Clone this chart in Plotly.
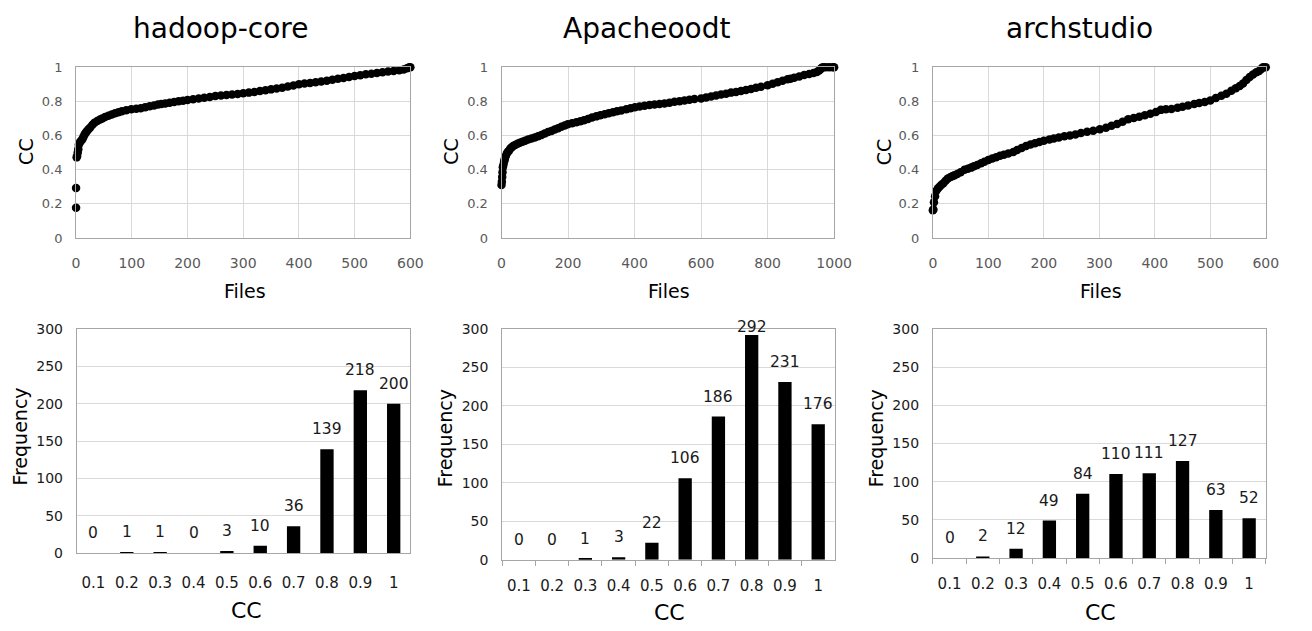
import plotly.graph_objects as go

# ---------------- data ----------------
titles = ["hadoop-core", "Apacheoodt", "archstudio"]

hadoop_files = [0, 0, 1, 2, 3, 4, 5, 7, 9, 11, 13, 15, 17, 19, 22, 25, 29, 33, 38, 43, 47, 52, 58, 64, 70, 76, 82, 90, 99,
                108, 116, 124, 132, 140, 147, 153, 160, 168, 176, 184, 192, 200, 210, 220, 230, 240, 250, 260, 270, 280,
                290, 300, 310, 320, 330, 340, 350, 360, 370, 380, 390, 400, 410, 420, 430, 440, 450, 460, 470, 480, 490,
                500, 510, 520, 530, 540, 550, 560, 570, 580, 588, 594, 598, 600]
hadoop_cc = [0.177, 0.293, 0.472, 0.48, 0.50, 0.52, 0.548, 0.56, 0.57, 0.576, 0.59, 0.605, 0.615, 0.624, 0.635, 0.645,
             0.662, 0.675, 0.685, 0.693, 0.70, 0.708, 0.715, 0.723, 0.73, 0.736, 0.742, 0.748, 0.753, 0.756, 0.76, 0.766,
             0.771, 0.776, 0.781, 0.785, 0.788, 0.792, 0.796, 0.80, 0.804, 0.808, 0.812, 0.817, 0.821, 0.826, 0.831,
             0.834, 0.837, 0.84, 0.843, 0.847, 0.851, 0.855, 0.86, 0.865, 0.87, 0.875, 0.88, 0.887, 0.893, 0.90, 0.904,
             0.908, 0.912, 0.916, 0.921, 0.926, 0.932, 0.937, 0.943, 0.948, 0.953, 0.958, 0.962, 0.966, 0.97, 0.974,
             0.978, 0.982, 0.987, 0.993, 1.0, 1.0]

apache_files = [0, 1, 2, 3, 4, 6, 8, 10, 13, 16, 19, 22, 26, 30, 35, 41, 48, 55, 63, 71, 80, 90, 100, 110, 120, 130, 140,
                150, 160, 170, 180, 190, 199, 212, 225, 237, 248, 260, 272, 285, 297, 310, 322, 335, 347, 360, 375, 388,
                401, 415, 430, 445, 460, 475, 490, 505, 520, 535, 550, 565, 580, 600, 615, 630, 645, 660, 675, 690, 705,
                720, 735, 750, 765, 780, 800, 815, 830, 845, 860, 869, 880, 895, 910, 925, 938, 948, 955, 960, 963, 967,
                975, 985, 995, 1000]
apache_cc = [0.31, 0.33, 0.357, 0.385, 0.414, 0.43, 0.45, 0.462, 0.48, 0.495, 0.505, 0.51, 0.522, 0.53, 0.538, 0.544,
             0.552, 0.558, 0.564, 0.57, 0.576, 0.583, 0.589, 0.595, 0.603, 0.612, 0.62, 0.627, 0.635, 0.643, 0.651,
             0.659, 0.666, 0.672, 0.678, 0.684, 0.69, 0.697, 0.705, 0.712, 0.719, 0.725, 0.73, 0.736, 0.742, 0.747,
             0.753, 0.759, 0.766, 0.77, 0.774, 0.778, 0.782, 0.785, 0.788, 0.792, 0.797, 0.801, 0.805, 0.809, 0.813,
             0.817, 0.822, 0.828, 0.834, 0.84, 0.845, 0.851, 0.855, 0.86, 0.866, 0.872, 0.879, 0.886, 0.894, 0.903,
             0.912, 0.921, 0.929, 0.932, 0.938, 0.946, 0.954, 0.96, 0.966, 0.972, 0.98, 0.99, 0.997, 1.0, 1.0, 1.0,
             1.0, 1.0]

arch_files = [0, 1, 2, 4, 6, 9, 12, 15, 19, 23, 27, 32, 36, 39, 44, 50, 57, 63, 69, 74, 80, 87, 93, 100, 107, 114, 121,
              128, 136, 145, 152, 160, 168, 176, 184, 192, 200, 210, 218, 227, 237, 247, 257, 267, 278, 289, 301, 312,
              322, 332, 342, 352, 362, 372, 382, 392, 402, 411, 420, 430, 441, 450, 460, 471, 480, 490, 500, 510, 520,
              529, 538, 546, 553, 559, 565, 571, 577, 583, 588, 592, 595, 600]
arch_cc = [0.163, 0.167, 0.21, 0.245, 0.275, 0.29, 0.30, 0.31, 0.32, 0.335, 0.348, 0.357, 0.363, 0.368, 0.375, 0.385,
           0.399, 0.405, 0.412, 0.42, 0.428, 0.438, 0.447, 0.456, 0.465, 0.473, 0.481, 0.487, 0.495, 0.504, 0.515,
           0.527, 0.538, 0.547, 0.555, 0.562, 0.57, 0.576, 0.582, 0.588, 0.595, 0.60, 0.606, 0.615, 0.622, 0.628,
           0.636, 0.646, 0.657, 0.667, 0.68, 0.695, 0.703, 0.71, 0.718, 0.727, 0.737, 0.75, 0.753, 0.755, 0.763,
           0.768, 0.776, 0.785, 0.79, 0.796, 0.805, 0.82, 0.832, 0.845, 0.862, 0.877, 0.89, 0.905, 0.925, 0.942,
           0.957, 0.97, 0.978, 0.99, 1.0, 1.0]

bins = ["0.1", "0.2", "0.3", "0.4", "0.5", "0.6", "0.7", "0.8", "0.9", "1"]
hadoop_freq = [0, 1, 1, 0, 3, 10, 36, 139, 218, 200]
apache_freq = [0, 0, 1, 3, 22, 106, 186, 292, 231, 176]
arch_freq = [0, 2, 12, 49, 84, 110, 111, 127, 63, 52]

top_xmax = [600, 1000, 600]
top_xdtick = [100, 200, 100]

# ---------------- layout helpers ----------------
W, H = 1312, 631
FONT = "DejaVu Sans"


def px_x(p):
    return p / W


def px_y(p):
    return 1 - p / H


top_dom_x = [(73.3, 413.3), (506.0, 844.3), (944.7, 1283.3)]
top_dom_y = (60.7, 236.0)
bot_dom_x = [(74.0, 413.3), (506.7, 845.0), (944.7, 1283.3)]
bot_dom_y = [(329.3, 559.3), (329.3, 566.0), (329.3, 564.3)]

fig = go.Figure()

scatter_sets = [(hadoop_files, hadoop_cc), (apache_files, apache_cc), (arch_files, arch_cc)]
freq_sets = [hadoop_freq, apache_freq, arch_freq]

grid = "#d9d9d9"
border = "#a6a6a6"

layout = dict(
    width=W, height=H, margin=dict(l=0, r=0, t=0, b=0),
    paper_bgcolor="white", plot_bgcolor="white", showlegend=False,
    font=dict(family=FONT, color="black"), hovermode=False,
)

annotations = []

for i in range(3):
    n = i + 1
    xa = "xaxis" if n == 1 else f"xaxis{n}"
    ya = "yaxis" if n == 1 else f"yaxis{n}"
    xs, ys = scatter_sets[i]
    fig.add_trace(go.Scatter(
        x=xs, y=ys, mode="markers", xaxis=f"x{n}" if n > 1 else "x", yaxis=f"y{n}" if n > 1 else "y",
        marker=dict(color="black", size=8.5, line=dict(width=0)), cliponaxis=False, hoverinfo="skip"))
    x0, x1 = top_dom_x[i]
    layout[xa] = dict(
        domain=[px_x(x0), px_x(x1)], range=[0, top_xmax[i]], dtick=top_xdtick[i], tick0=0,
        showgrid=True, gridcolor=grid, gridwidth=1, zeroline=False,
        showline=True, linecolor=border, linewidth=1, mirror=True,
        ticks="", ticklabelstandoff=12,
        tickfont=dict(family=FONT, size=14, color="#595959"),
        anchor=f"y{n}" if n > 1 else "y",
    )
    layout[ya] = dict(
        domain=[px_y(top_dom_y[1]), px_y(top_dom_y[0])], range=[0, 1], dtick=0.2, tick0=0,
        showgrid=True, gridcolor=grid, gridwidth=1, zeroline=False,
        showline=True, linecolor=border, linewidth=1, mirror=True,
        ticks="", ticklabelstandoff=10,
        tickfont=dict(family=FONT, size=13, color="#595959"),
        anchor=f"x{n}" if n > 1 else "x",
    )

for i in range(3):
    n = i + 4
    xa = f"xaxis{n}"
    ya = f"yaxis{n}"
    vals = freq_sets[i]
    fig.add_trace(go.Bar(
        x=bins, y=vals, width=0.4, marker=dict(color="black", line=dict(width=0)),
        xaxis=f"x{n}", yaxis=f"y{n}", hoverinfo="skip"))
    x0, x1 = bot_dom_x[i]
    y0, y1 = bot_dom_y[i]
    layout[xa] = dict(
        domain=[px_x(x0), px_x(x1)], type="category", range=[-0.5, 9.5],
        showgrid=False, zeroline=False,
        showline=True, linecolor=border, linewidth=1, mirror=True,
        ticks="outside" if i > 0 else "", tickson="boundaries", ticklen=5, tickcolor=border,
        ticklabelstandoff=12 if i > 0 else 16,
        tickfont=dict(family=FONT, size=15, color="#1a1a1a"),
        anchor=f"y{n}",
    )
    layout[ya] = dict(
        domain=[px_y(y1), px_y(y0)], range=[0, 300], dtick=50, tick0=0,
        showgrid=True, gridcolor=grid, gridwidth=1, zeroline=False,
        showline=True, linecolor=border, linewidth=1, mirror=True,
        ticks="", ticklabelstandoff=10,
        tickfont=dict(family=FONT, size=14, color="#1a1a1a"),
        anchor=f"x{n}",
    )
    for k, v in enumerate(vals):
        annotations.append(dict(
            x=k, y=v, xref=f"x{n}", yref=f"y{n}", text=str(v), showarrow=False,
            xanchor="center", yanchor="bottom", yshift=9 if v < 280 else -3,
            font=dict(family=FONT, size=15.5, color="#1a1a1a")))

# ---------------- text labels ----------------
title_cx = [220, 653, 1094]
top_cc_x = [23, 455, 895]
files_cx = [245, 676.7, 1116]
freq_x = [16, 448.3, 886.7]
freq_y = [440, 441.7, 441.7]
bcc_x = [246.7, 676.7, 1115]
bcc_y = [618, 620, 620]

for i in range(3):
    annotations.append(dict(x=px_x(title_cx[i]), y=px_y(21), xref="paper", yref="paper", text=titles[i],
                            showarrow=False, xanchor="center", yanchor="middle",
                            font=dict(family=FONT, size=28, color="black")))
    annotations.append(dict(x=px_x(top_cc_x[i]), y=px_y(147), xref="paper", yref="paper", text="CC",
                            showarrow=False, xanchor="center", yanchor="middle", textangle=-90,
                            font=dict(family=FONT, size=19, color="black")))
    annotations.append(dict(x=px_x(files_cx[i]), y=px_y(290), xref="paper", yref="paper", text="Files",
                            showarrow=False, xanchor="center", yanchor="middle",
                            font=dict(family=FONT, size=19, color="black")))
    annotations.append(dict(x=px_x(freq_x[i]), y=px_y(freq_y[i]), xref="paper", yref="paper", text="Frequency",
                            showarrow=False, xanchor="center", yanchor="middle", textangle=-90,
                            font=dict(family=FONT, size=19, color="black")))
    annotations.append(dict(x=px_x(bcc_x[i]), y=px_y(bcc_y[i]), xref="paper", yref="paper", text="CC",
                            showarrow=False, xanchor="center", yanchor="middle",
                            font=dict(family=FONT, size=22, color="black")))

layout["annotations"] = annotations
fig.update_layout(**layout)

# remove the browser's default page margin so the 1312x631 figure fills the window exactly
fig.write_html("out.html", config={"displayModeBar": False},
               post_script="document.body.style.margin='0px'; document.body.style.overflow='hidden';")
